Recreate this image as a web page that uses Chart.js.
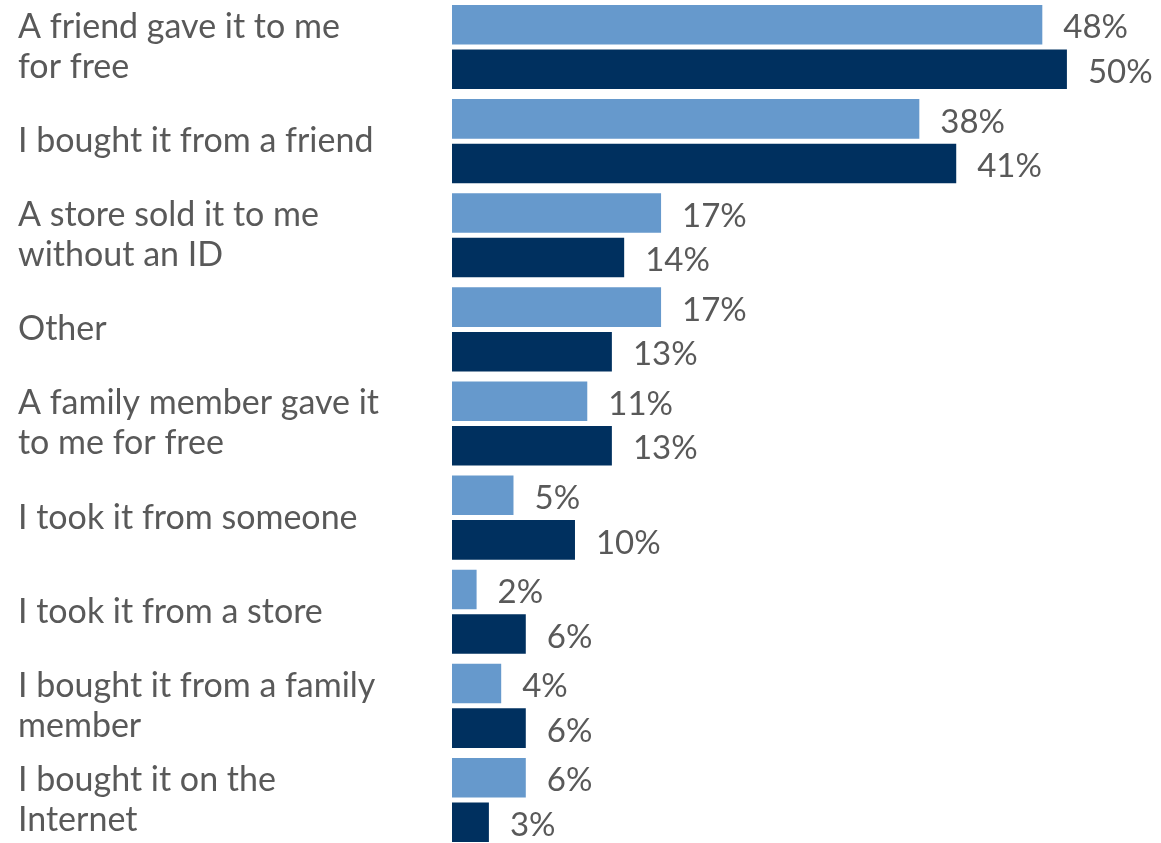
<!DOCTYPE html>
<html><head><meta charset="utf-8">
<script src="https://cdn.jsdelivr.net/npm/chart.js@4/dist/chart.umd.min.js"></script>
<style>html,body{margin:0;padding:0;background:#fff;overflow:hidden;}#wrap{width:1161px;height:843px;overflow:hidden;}</style>
</head><body><div id="wrap"><canvas id="c" width="1161" height="847"></canvas></div>
<script>
const categories = [
  ["A friend gave it to me", "for free"],
  "I bought it from a friend",
  ["A store sold it to me", "without an ID"],
  "Other",
  ["A family member gave it", "to me for free"],
  "I took it from someone",
  "I took it from a store",
  ["I bought it from a family", "member"],
  ["I bought it on the", "Internet"]
];
const seriesLight = [48, 38, 17, 17, 11, 5, 2, 4, 6];
const seriesDark = [50, 41, 14, 13, 13, 10, 6, 6, 3];

const FONT = "Lato, 'Open Sans', sans-serif";
const TEXT = "#595959";

const valueLabels = {
  id: 'valueLabels',
  afterDatasetsDraw(chart) {
    const ctx = chart.ctx;
    ctx.save();
    ctx.font = "33px " + FONT;
    ctx.fillStyle = TEXT;
    ctx.textAlign = 'left';
    ctx.textBaseline = 'middle';
    chart.data.datasets.forEach((ds, di) => {
      const meta = chart.getDatasetMeta(di);
      meta.data.forEach((el, i) => {
        ctx.fillText(ds.data[i] + '%', el.x + 21, el.y + 3);
      });
    });
    ctx.restore();
  }
};

new Chart(document.getElementById('c'), {
  type: 'bar',
  data: {
    labels: categories,
    datasets: [
      { data: seriesLight, backgroundColor: '#6699cc', borderWidth: 0 },
      { data: seriesDark, backgroundColor: '#00305f', borderWidth: 0 }
    ]
  },
  options: {
    indexAxis: 'y',
    responsive: false,
    animation: false,
    devicePixelRatio: 1,
    categoryPercentage: 0.947,
    barPercentage: 0.888,
    layout: { padding: { left: 18, right: 8, top: -1, bottom: 0 } },
    plugins: { legend: { display: false }, tooltip: { enabled: false } },
    scales: {
      x: { display: false, min: 0, max: 57 },
      y: {
        grid: { display: false, drawTicks: false },
        border: { display: false },
        afterFit(scale) { scale.width = 434; scale.paddingTop = 0; scale.paddingBottom = 0; },
        ticks: {
          crossAlign: 'far',
          color: TEXT,
          padding: 0,
          font: { family: FONT, size: 34, lineHeight: '40px' }
        }
      }
    }
  },
  plugins: [valueLabels]
});
</script></body></html>
